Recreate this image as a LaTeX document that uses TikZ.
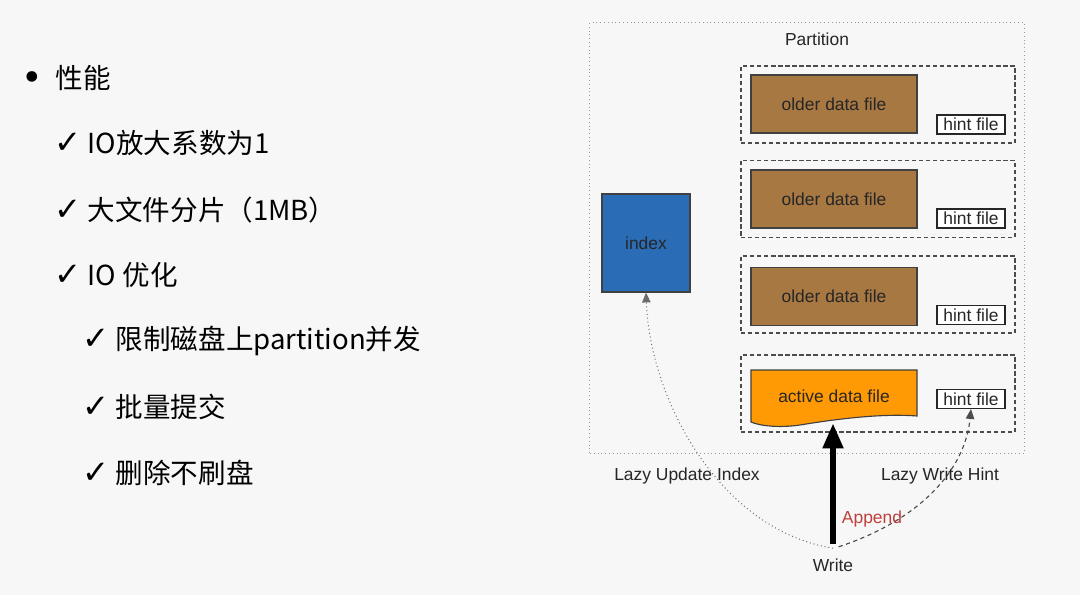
\documentclass[tikz,border=0pt]{standalone}
\usepackage{fontspec}
\setmainfont{Liberation Sans}
\newfontfamily\cjk{Noto Sans CJK SC}
\newfontfamily\sym{DejaVu Sans}
\usetikzlibrary{arrows.meta, positioning, calc}
\definecolor{cbg}{HTML}{F7F7F7}
\definecolor{cbrown}{HTML}{A87843}
\definecolor{corange}{HTML}{FF9A05}
\definecolor{cblue}{HTML}{2B6CB6}
\definecolor{cred}{HTML}{C0403C}
\definecolor{cgrey}{HTML}{6B6B6B}
\newcommand{\tick}{{\sym\fontsize{23}{22}\selectfont ✓}}
\tikzset{
  every picture/.style={x=0.025cm, y=-0.025cm, line width=0.8pt},
  lbl/.style={font=\fontsize{12.4}{14}\selectfont, text=black!85, inner sep=0pt},
  filebox/.style={draw=black!75, fill=#1, minimum width=4.15cm, minimum height=1.45cm, lbl},
  filebox/.default=cbrown,
  hintbox/.style={draw=black!85, fill=white, minimum width=1.7cm, minimum height=0.475cm, lbl},
  group/.style={draw=black!70, dash pattern=on 3pt off 2pt, minimum width=6.85cm, minimum height=1.925cm},
  partbox/.style={draw=black!40, dotted, line width=0.7pt, minimum width=10.85cm, minimum height=10.75cm},
  item/.style={font=\cjk\fontsize{19.6}{22}\selectfont, anchor=west, inner sep=0pt},
  appendarrow/.style={-{Triangle[length=0.62cm, width=0.5cm]}, line width=3.6pt},
  lazyidx/.style={-{Triangle[length=7pt, width=6pt]}, draw=cgrey, dotted, line width=0.7pt},
  lazyhint/.style={-{Triangle[length=7pt, width=6pt]}, draw=black!70, dash pattern=on 3pt off 2.5pt, line width=0.8pt},
}

\begin{document}
\begin{tikzpicture}
  \fill[cbg] (0,0) rectangle (1080,595);
  \useasboundingbox (0,0) rectangle (1080,595);

  % left column
  \node[inner sep=0pt, font=\sym\fontsize{26}{26}\selectfont] (bul) at (32,81) {•};
  \node[item] (perf) at (55,78) {性能};
  \node[item] (it1) at (54,143) {\tick\ IO放大系数为1};
  \node[item] (it2) at (54,210) {\tick\ 大文件分片（1MB）};
  \node[item] (it3) at (54,275) {\tick\ IO 优化};
  \node[item] (it4) at (82,341) {\tick\ 限制磁盘上partition并发};
  \node[item] (it5) at (82,407) {\tick\ 批量提交};
  \node[item] (it6) at (82,473) {\tick\ 删除不刷盘};

  % partition
  \node[partbox] (part) at (807,238) {};
  \node[lbl] (parttitle) at (817,39) {Partition};

  \foreach \i/\gy/\fy/\hy in {1/104.5/104/124.5, 2/199/199/218.5, 3/294.5/296.5/315} {
    \node[group] (grp\i) at (878,\gy) {};
    \node[filebox] (old\i) at (834,\fy) {older data file};
    \node[hintbox] (hint\i) at (971,\hy) {hint file};
  }

  \node[group] (grp4) at (878,393.5) {};
  \fill[corange, draw=black!75] (751,370) -- (917,370) -- (917,416)
    .. controls (880,413) and (830,420) .. (800,425)
    .. controls (780,428) and (760,426) .. (751,422) -- cycle;
  \node[lbl, minimum width=4.15cm, minimum height=1.325cm] (active) at (834,396.5) {active data file};
  \node[hintbox] (hint4) at (971,399) {hint file};

  \node[draw=black!75, fill=cblue, minimum width=2.2cm, minimum height=2.45cm, lbl] (idx) at (646,243) {index};

  % write path
  \node[lbl] (write) at (833,565) {Write};
  \draw[appendarrow, shorten <=10pt] (write.north) -- (write.north |- active.south);
  \node[lbl, text=cred] (append) at (872,519) {Append};
  \draw[lazyidx] ([xshift=0pt,yshift=7pt]write.north) .. controls (720,530) and (650,400) .. (idx.south);
  \draw[lazyhint] ([xshift=4pt,yshift=8pt]write.north) .. controls (920,520) and (965,470) .. (hint4.south);
  \node[lbl] (lazyidxlbl) at (687,476) {Lazy Update Index};
  \node[lbl] (lazyhintlbl) at (940,476) {Lazy Write Hint};
\end{tikzpicture}
\end{document}
